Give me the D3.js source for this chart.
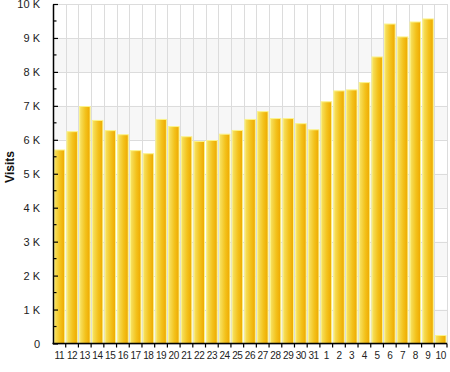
<!DOCTYPE html>
<html><head><meta charset="utf-8">
<script src="https://cdn.jsdelivr.net/npm/d3@7"></script>
<style>body{margin:0;background:#fff}svg{display:block}text{font-family:"Liberation Sans",Arial,sans-serif}</style>
</head><body><svg id="c" width="450" height="372"></svg>
<script>
const days = ["11","12","13","14","15","16","17","18","19","20","21","22","23","24","25","26","27","28","29","30","31","1","2","3","4","5","6","7","8","9","10"];
const visits = [5700,6240,6980,6570,6270,6150,5680,5590,6600,6390,6090,5950,5980,6165,6275,6600,6830,6625,6625,6475,6295,7120,7440,7470,7685,8440,9410,9030,9470,9560,235];
const yTicks = [0,1000,2000,3000,4000,5000,6000,7000,8000,9000,10000];
const yLabels = ["0","1 K","2 K","3 K","4 K","5 K","6 K","7 K","8 K","9 K","10 K"];
const yTitle = "Visits";

const svg = d3.select("#c");
const L=53, R=447, T=4, B=343.5;
const x = d3.scaleBand().domain(days).range([L,R]).paddingInner(0).paddingOuter(0);
const y = d3.scaleLinear().domain([0,10000]).range([B,T]);

const defs = svg.append("defs");
const g = defs.append("linearGradient").attr("id","bg").attr("x1","0").attr("x2","1").attr("y1","0").attr("y2","0");
g.append("stop").attr("offset","0").attr("stop-color","#f7e468");
g.append("stop").attr("offset","0.55").attr("stop-color","#f3c21c");
g.append("stop").attr("offset","1").attr("stop-color","#eea800");

// alternating bands
for(let i=0;i<10;i++){
  if(i%2===0) svg.append("rect").attr("x",L).attr("width",R-L).attr("y",y(yTicks[i+1])).attr("height",y(yTicks[i])-y(yTicks[i+1])).attr("fill","#f7f7f7");
}
// horizontal grid
svg.append("g").selectAll("line").data(yTicks).join("line")
  .attr("x1",L).attr("x2",R).attr("y1",d=>Math.round(y(d))+0.5).attr("y2",d=>Math.round(y(d))+0.5)
  .attr("stroke","#dcdcdc").attr("stroke-width",1);
// vertical grid
const vb = days.map(d=>x(d)).concat([R]);
svg.append("g").selectAll("line").data(vb).join("line")
  .attr("x1",d=>Math.round(d)+0.5).attr("x2",d=>Math.round(d)+0.5).attr("y1",T).attr("y2",B)
  .attr("stroke","#dcdcdc").attr("stroke-width",1);

// bars
const bw = x.bandwidth();
svg.append("g").selectAll("rect").data(days).join("rect")
  .attr("x",(d)=>x(d)+1.2).attr("width",bw-2.2)
  .attr("y",(d,i)=>y(visits[i])).attr("height",(d,i)=>B-y(visits[i]))
  .attr("fill","url(#bg)").attr("stroke","#fbf38a").attr("stroke-width",1);

// y axis
const ya = d3.axisLeft(y).tickValues(yTicks).tickFormat((d,i)=>yLabels[i]).tickSizeInner(-5).tickSizeOuter(0).tickPadding(13);
const yg = svg.append("g").attr("transform",`translate(${L},0)`).call(ya);
yg.select(".domain").attr("stroke","#000").attr("stroke-width",1.5);
yg.selectAll(".tick line").attr("stroke","#000").attr("stroke-width",1.2);
yg.selectAll(".tick text").attr("font-size",11).attr("fill","#222").attr("font-family","'Liberation Sans',Arial,sans-serif");
// minor ticks
const minor = d3.range(500,10000,1000);
svg.append("g").selectAll("line").data(minor).join("line")
  .attr("x1",L).attr("x2",L+3.5).attr("y1",d=>y(d)).attr("y2",d=>y(d)).attr("stroke","#000").attr("stroke-width",1.2);

// x axis
const xa = d3.axisBottom(x).tickSize(0).tickPadding(8);
const xg = svg.append("g").attr("transform",`translate(0,${B})`).call(xa);
xg.select(".domain").remove();
xg.selectAll(".tick text").attr("font-size",10).attr("fill","#222").attr("letter-spacing","-0.4").attr("font-family","'Liberation Sans',Arial,sans-serif");
svg.append("line").attr("x1",L-0.5).attr("x2",R).attr("y1",B).attr("y2",B).attr("stroke","#000").attr("stroke-width",1.5);
svg.append("g").selectAll("line").data(vb.slice(1)).join("line")
  .attr("x1",d=>d).attr("x2",d=>d).attr("y1",B).attr("y2",B+4).attr("stroke","#000").attr("stroke-width",1.2);

svg.append("text").attr("transform","translate(14,167) rotate(-90)").attr("text-anchor","middle")
  .attr("font-size",12).attr("font-weight","bold").attr("fill","#111").text(yTitle);
</script></body></html>
